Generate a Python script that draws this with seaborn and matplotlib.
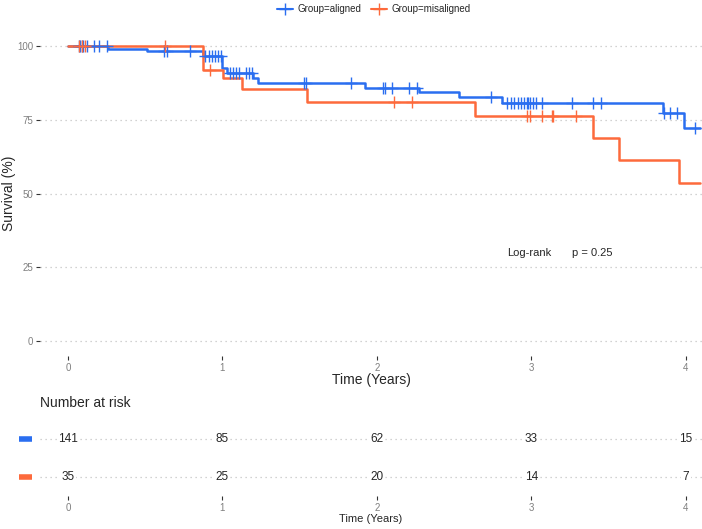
import numpy as np
import pandas as pd
import matplotlib
matplotlib.use('Agg')
import matplotlib.pyplot as plt
import matplotlib.lines as mlines
import seaborn as sns

sns.set_theme(style='white')
plt.rcParams['font.family'] = ['Liberation Sans', 'DejaVu Sans']

groups = ['aligned', 'misaligned']
palette = {'aligned': '#2a6ef0', 'misaligned': '#fd6a3c'}

# Kaplan-Meier steps (time in years, survival in %)
aligned_time = [0, 0.26, 0.51, 0.875, 1.0, 1.03, 1.2, 1.23, 1.92, 2.27, 2.53, 2.81, 3.85, 3.99]
aligned_surv = [100, 99.0, 98.3, 96.6, 92.5, 90.8, 89.0, 87.3, 85.6, 84.3, 82.5, 80.8, 77.2, 72.3]
misaligned_time = [0, 0.876, 1.005, 1.124, 1.55, 2.635, 3.396, 3.569, 3.955]
misaligned_surv = [100, 91.9, 89.0, 85.3, 81.1, 76.4, 68.7, 61.4, 53.7]
end_time = 4.09

aligned_censor = [0.07, 0.08, 0.09, 0.10, 0.12, 0.17, 0.20, 0.25, 0.62, 0.64, 0.79,
                  0.89, 0.91, 0.93, 0.95, 0.97, 0.99, 1.05, 1.07, 1.09, 1.11, 1.15,
                  1.17, 1.19, 1.53, 1.54, 1.83, 2.04, 2.05, 2.10, 2.21, 2.26, 2.74,
                  2.84, 2.87, 2.89, 2.91, 2.93, 2.95, 2.97, 2.98, 2.99, 3.01, 3.03,
                  3.07, 3.26, 3.40, 3.45, 3.86, 3.90, 3.94, 4.06]
misaligned_censor = [0.07, 0.09, 0.11, 0.63, 0.92, 2.11, 2.23, 2.97, 2.99, 3.07,
                     3.13, 3.14, 3.29]

risk_times = [0, 1, 2, 3, 4]
aligned_risk = [141, 85, 62, 33, 15]
misaligned_risk = [35, 25, 20, 14, 7]
logrank_p = 0.25

curves = {'aligned': (aligned_time, aligned_surv, aligned_censor),
          'misaligned': (misaligned_time, misaligned_surv, misaligned_censor)}
risk = {'aligned': aligned_risk, 'misaligned': misaligned_risk}

step_rows, cens_rows = [], []
for g in groups:
    t, s, c = curves[g]
    for ti, si in zip(t + [end_time], s + [s[-1]]):
        step_rows.append([g, ti, si])
    idx = np.searchsorted(t, c, side='right') - 1
    for ci, k in zip(c, idx):
        cens_rows.append([g, ci, s[k]])
steps = pd.DataFrame(step_rows, columns=['group', 'time', 'surv'])
cens = pd.DataFrame(cens_rows, columns=['group', 'time', 'surv'])

W, H = 702, 529
fig = plt.figure(figsize=(W / 100, H / 100), dpi=100)
xlim = (-0.181, 4.104)
gray = '#7f7f7f'
grid_kw = dict(color='#c4c4c4', linestyle=(0, (1, 3)), linewidth=0.9)

ax = fig.add_axes([40 / W, 1 - 356 / H, 662 / W, 325 / H])
for g in groups:
    sns.lineplot(data=steps[steps.group == g], x='time', y='surv', color=palette[g],
                 drawstyle='steps-post', estimator=None, sort=False, linewidth=1.8,
                 ax=ax, legend=False)
for g in groups:
    sub = cens[cens.group == g]
    ax.plot(sub.time, sub.surv, linestyle='none', marker='+', markersize=8,
            markeredgewidth=1.0, color=palette[g])

ax.set_xlim(*xlim)
ax.set_ylim(-5, 105)
ax.set_yticks([0, 25, 50, 75, 100])
ax.set_xticks(risk_times)
for sp in ax.spines.values():
    sp.set_visible(False)
ax.yaxis.grid(True, **grid_kw)
ax.xaxis.grid(False)
ax.tick_params(axis='both', which='major', length=3, width=0.8, color='#333333',
               labelsize=7, labelcolor=gray, pad=2, left=True, bottom=True)
ax.set_xlabel('Time (Years)', fontsize=10, labelpad=0)
ax.set_ylabel('Survival (%)', fontsize=10)
ax.yaxis.set_label_coords(-0.037, 0.5)
ax.text(2.84, 29.8, 'Log-rank', fontsize=8, va='center', ha='left')
ax.text(3.26, 29.8, f'p = {logrank_p}', fontsize=8, va='center', ha='left')

handles = [mlines.Line2D([], [], color=palette[g], marker='+', markersize=8,
                         markeredgewidth=1.0, linewidth=1.5) for g in groups]
fig.legend(handles, [f'Group={g}' for g in groups], loc='center',
           bbox_to_anchor=(374 / W, 1 - 9 / H), ncol=2, frameon=False, fontsize=7,
           handlelength=1.6, columnspacing=1.0, handletextpad=0.5)

# risk table
axr = fig.add_axes([40 / W, 1 - 496 / H, 662 / W, 76 / H])
axr.set_xlim(*xlim)
axr.set_ylim(1.5, -0.5)
axr.set_yticks([0, 1])
axr.set_yticklabels([])
axr.set_xticks(risk_times)
for sp in axr.spines.values():
    sp.set_visible(False)
axr.yaxis.grid(True, **grid_kw)
axr.tick_params(axis='y', length=0)
axr.tick_params(axis='x', length=3, width=0.8, color='#333333', labelsize=7,
                labelcolor=gray, pad=2, bottom=True)
axr.set_xlabel('Time (Years)', fontsize=8, labelpad=1)
for i, g in enumerate(groups):
    for t, n in zip(risk_times, risk[g]):
        axr.text(t, i, str(n), fontsize=8.5, ha='center', va='center',
                 bbox=dict(facecolor='white', edgecolor='none', pad=1.0))
    axr.plot([-0.032, -0.012], [i, i], transform=axr.get_yaxis_transform(),
             color=palette[g], linewidth=4, solid_capstyle='butt', clip_on=False)

fig.text(40 / W, 1 - 403 / H, 'Number at risk', fontsize=10, va='center', ha='left')

fig.savefig('out.png', dpi=100)
